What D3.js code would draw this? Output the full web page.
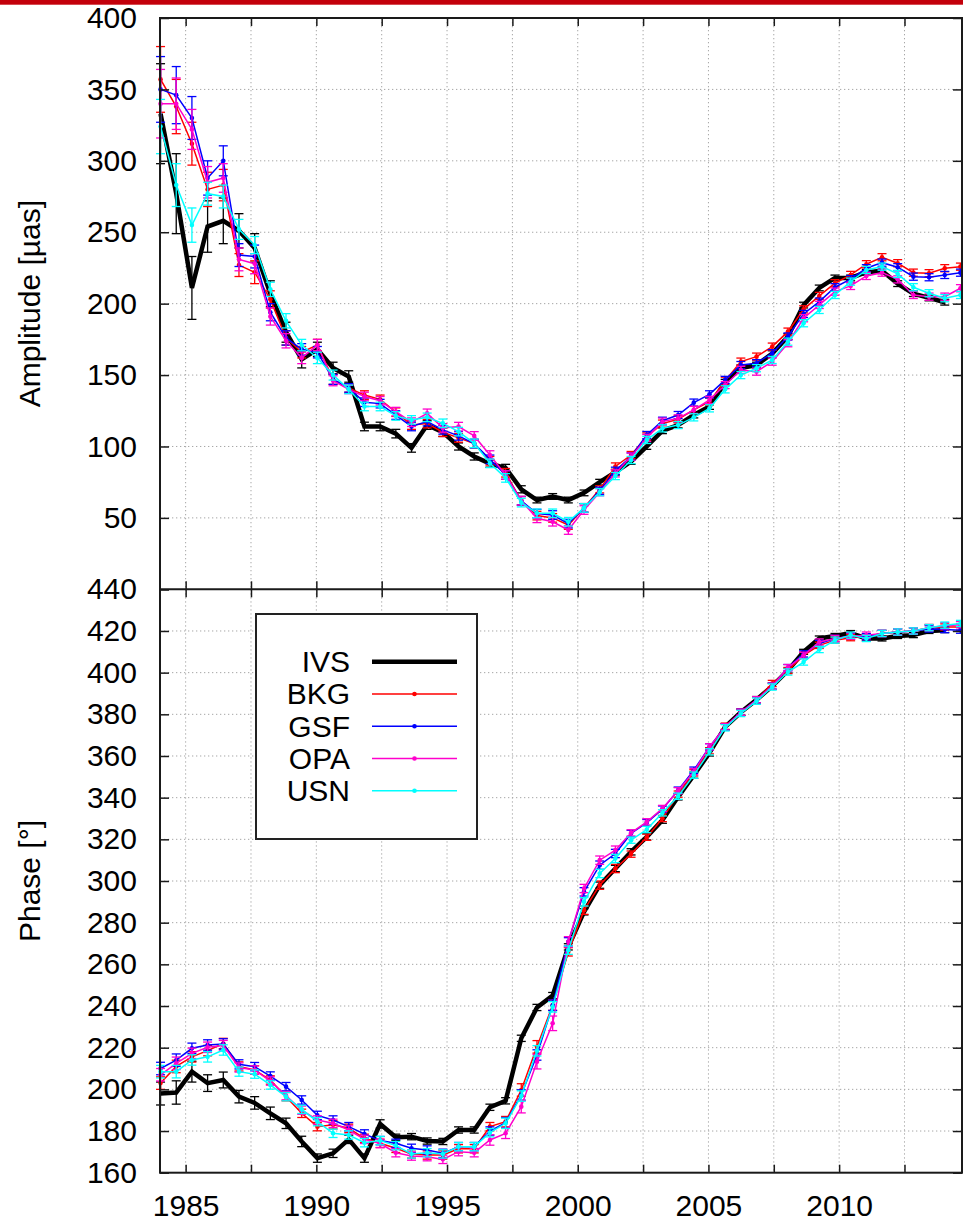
<!DOCTYPE html>
<html>
<head>
<meta charset="utf-8">
<script src="https://cdn.jsdelivr.net/npm/d3@7"></script>
<style>
  body { margin: 0; background: #fff; }
  svg { display: block; font-family: "Liberation Sans", Arial, Helvetica, sans-serif; }
</style>
</head>
<body>
<svg id="chart" width="963" height="1223"></svg>
<script>
// epochs (decimal years) of the solutions
const years = [1984.04, 1984.64, 1985.24, 1985.84, 1986.44, 1987.04, 1987.64, 1988.24, 1988.84, 1989.44,
  1990.04, 1990.64, 1991.24, 1991.84, 1992.44, 1993.04, 1993.64, 1994.24, 1994.84, 1995.44,
  1996.04, 1996.64, 1997.24, 1997.84, 1998.44, 1999.04, 1999.64, 2000.24, 2000.84, 2001.44,
  2002.04, 2002.64, 2003.24, 2003.84, 2004.44, 2005.04, 2005.64, 2006.24, 2006.84, 2007.44,
  2008.04, 2008.64, 2009.24, 2009.84, 2010.44, 2011.04, 2011.64, 2012.24, 2012.84, 2013.44,
  2014.04, 2014.64];

const names = ["IVS", "BKG", "GSF", "OPA", "USN"];
const colors = ["#000000", "#ff0000", "#0000ff", "#ff00cc", "#00ffff"];

// amplitude [µas]
const ivsAmp = [333, 277, 211, 254, 258, 251, 239, 207, 180, 161, 168, 155, 149, 114, 114, 109, 99, 115, 110, 100,
  93, 88, 85, 70, 62.5, 65, 62.5, 67.5, 75, 82, 89.5, 100, 111, 115, 122, 128, 145, 155, 157, 165,
  177, 199, 211, 218, 218, 222, 223, 214, 207, 204, 201];
const bkgAmp = [357, 338, 312, 280, 283, 227, 222, 203, 176, 166, 171, 147, 141, 136, 133, 124, 115, 116, 110, 106,
  102, 90, 81.6, 62, 51.6, 50, 45, 57, 70, 86, 94, 107, 116, 119, 125.6, 131.4, 146, 159.4, 162.9, 169.9,
  180.4, 196, 205.4, 214.3, 220.1, 227.6, 232.5, 228.3, 221.7, 221.3, 224.8, 225.9];
const gsfAmp = [350, 346, 330, 288, 300, 234, 233, 194, 176, 168, 166, 147, 141, 131, 130, 122, 114, 117.4, 111.6, 107.4,
  102, 91, 80, 62, 53, 52, 46, 57, 69, 83, 93, 108, 118, 122, 130.7, 136.5, 146.6, 157, 158.3, 165.3,
  177, 192.8, 201.4, 211.5, 217.1, 224.8, 228.7, 225.5, 218.9, 218.5, 220.1, 221.7];
const opaAmp = [340, 340, 322, 285, 288, 231, 228, 191, 174, 162, 171, 146, 140, 135, 132, 124.4, 117, 123.2, 113, 113.9,
  107.4, 94, 80, 62, 49.7, 47.3, 41.5, 55.5, 68, 81.2, 92.9, 106, 117.4, 119.7, 125.6, 132.6, 143, 153.6, 152.4, 159.4,
  172.3, 189.8, 199.1, 208.4, 212.4, 219.4, 221.7, 217, 206.1, 204.9, 204.9, 210.8];
const usnAmp = [324, 283, 255, 277, 275, 252, 241, 210, 188, 171, 162, 150, 140, 128, 128, 121.4, 118.6, 120.4, 116.2, 110.4,
  102.2, 88.2, 78, 60.7, 53.2, 53.2, 47.3, 57, 68, 79.3, 90.5, 104.6, 112.7, 115, 120.4, 126.7, 140, 150, 154.8, 160.6,
  173.4, 186.3, 195.6, 206.1, 215.4, 223.6, 225.9, 220.8, 211.5, 207.3, 203.8, 206.1];

const ivsAmpErr = [35, 28, 22, 18, 16, 12, 10, 9, 7, 6, 5, 4, 4, 3, 3, 3, 3, 3, 3, 2.5,
  2.5, 2.5, 2.5, 2.5, 2, 2, 2, 2, 2, 2, 2, 2, 2, 2, 2, 2, 2, 2, 2, 2,
  2, 2, 2, 2, 2, 2, 2, 2, 2, 2, 2];
const bkgAmpErr = [23, 19, 15, 12, 11, 8, 8, 6, 5, 4, 4, 3.5, 3, 3, 3, 3, 3, 3, 3, 3,
  3, 3, 3, 3, 3, 3, 3, 3, 2.5, 2.5, 2.5, 2.5, 2.5, 2.5, 2.5, 2.5, 2.5, 2.5, 2.5, 2.5,
  2.5, 2.5, 2.5, 2.5, 2.5, 2.5, 2.5, 2.5, 2.5, 2.5, 2.5, 2.5];
const gsfAmpErr = [23, 20, 15, 12, 10.5, 8, 8, 6, 5, 4, 4, 3.5, 3, 3, 3, 3, 3, 3, 3, 3,
  3, 3, 3, 3, 3, 3, 3, 3, 2.5, 2.5, 2.5, 2.5, 2.5, 2.5, 2.5, 2.5, 2.5, 2.5, 2.5, 2.5,
  2.5, 2.5, 2.5, 2.5, 2.5, 2.5, 2.5, 2.5, 2.5, 2.5, 2.5, 2.5];
const opaAmpErr = [24, 18, 14, 11, 10, 8, 7, 6, 5, 4, 4, 3.5, 3, 3, 3, 3, 3, 3, 3, 3,
  3, 3, 3, 3, 3, 3, 3, 3, 2.5, 2.5, 2.5, 2.5, 2.5, 2.5, 2.5, 2.5, 2.5, 2.5, 2.5, 2.5,
  2.5, 2.5, 2.5, 2.5, 2.5, 2.5, 2.5, 2.5, 2.5, 2.5, 2.5, 2.5];
const usnAmpErr = [19, 15, 12, 8, 8, 7, 6, 5, 5, 4, 4, 3.5, 3, 3, 3, 3, 3, 3, 3, 3,
  3, 3, 3, 3, 3, 3, 3, 3, 2.5, 2.5, 2.5, 2.5, 2.5, 2.5, 2.5, 2.5, 2.5, 2.5, 2.5, 2.5,
  2.5, 2.5, 2.5, 2.5, 2.5, 2.5, 2.5, 2.5, 2.5, 2.5, 2.5, 2.5];

// phase [°]
const ivsPhase = [198, 198.5, 208.5, 203, 204.5, 196.5, 193.5, 188.5, 183.7, 175, 167, 169.3, 176, 167, 183.4, 177, 177.3, 175.2, 175, 180.5,
  180.5, 191.4, 194.5, 224.5, 239.3, 245, 268.4, 285.2, 298, 306, 314, 321.2, 329.2, 340.4, 350.8, 361.5, 374, 381, 387, 393.5,
  401, 410, 416.4, 417.6, 419, 416.4, 416.4, 417.6, 418, 420, 420.4];
const bkgPhase = [203, 211, 215.6, 218.6, 222, 211, 209.3, 204.5, 196.5, 188.5, 182.1, 183, 181.3, 176.5, 174.1, 171.7, 169, 168.5, 168.5, 171.5,
  171.5, 182.1, 184.5, 199.7, 220.4, 240.4, 266, 286, 298, 306, 312.9, 321, 330, 341.7, 351.9, 362.5, 374.3, 381, 387, 394.8,
  401, 408.3, 413.1, 415.6, 416.8, 417.2, 418.8, 419.5, 420, 421.6, 421.9, 421.9];
const gsfPhase = [210, 214, 219.7, 221.3, 221.8, 212, 210.9, 206.4, 201.3, 194.9, 187.5, 185.3, 182.1, 178.6, 175.4, 174.1, 171.7, 170.9, 169.3, 172.5,
  172.5, 180, 184, 197.3, 216.5, 240.4, 270.8, 294.8, 307.6, 313.2, 322.8, 328, 334.5, 343.6, 353.2, 364.4, 374, 381, 387, 393.5,
  402.4, 409, 414, 416.4, 417.5, 417.2, 418.8, 419.5, 420, 421, 420.7, 420.4];
const opaPhase = [207, 212.5, 217.3, 220.2, 221, 210.5, 209.3, 204, 197, 190, 185.3, 183.7, 180.5, 176, 174, 169.6, 168, 167.7, 166.4, 170.1,
  169.6, 175.7, 178.9, 191.7, 213.3, 231.7, 270.8, 296.4, 310, 314.8, 323.1, 328.4, 334.8, 343.3, 352.5, 364.4, 374, 381, 387, 393.5,
  402.4, 408.3, 414.7, 416.4, 417.5, 418, 418.8, 419.5, 420, 421.6, 422.5, 423];
const usnPhase = [208.5, 208.5, 214.1, 215.6, 218.9, 208.5, 207.3, 202.1, 196.5, 190.4, 184.5, 178.9, 178.1, 174.4, 175.4, 173, 169, 169.6, 169, 172.5,
  172.5, 179.2, 183.7, 196.8, 218.5, 239.6, 266.8, 290, 303.6, 310.8, 319.6, 324.7, 332.7, 340.7, 350.8, 362, 373.5, 380.4, 386.3, 393.1,
  400.3, 405.1, 411.1, 415.6, 418, 416.4, 418.8, 419.5, 420, 421.6, 422.8, 423.6];

const ivsPhaseErr = [5.5, 5.6, 5, 4, 3.8, 3, 3, 3, 2.5, 2.5, 2, 2, 2, 2, 2, 1.5, 1.5, 1.5, 1.5, 1.5,
  1.5, 1.5, 1.5, 1.5, 1.5, 1.5, 1.5, 1.5, 1.5, 1.5, 1.5, 1.5, 1.5, 1.5, 1.5, 1.5, 1.5, 1.5, 1.5, 1.5,
  1.2, 1.2, 1.2, 1.2, 1.2, 1.2, 1.2, 1.2, 1.2, 1.2, 1.2];
const bkgPhaseErr = [3, 3, 2.5, 2.5, 2.5, 2.2, 2, 2, 2, 2, 2, 2, 2, 2, 2, 2, 2, 2, 2, 2,
  2, 2, 2.5, 3, 3, 2.5, 2, 2, 2, 2, 1.5, 1.5, 1.5, 1.5, 1.5, 1.5, 1.5, 1.5, 1.5, 1.5,
  1.5, 1.5, 1.5, 1.5, 1.5, 1.5, 1.5, 1.5, 1.5, 1.5, 1.5, 1.5];
const gsfPhaseErr = [3, 3, 2.5, 2.5, 2.5, 2.2, 2, 2, 2, 2, 2, 2, 2, 2, 2, 2, 2, 2, 2, 2,
  2, 2, 2.5, 2.5, 2.5, 2.5, 2, 2, 2, 2, 1.5, 1.5, 1.5, 1.5, 1.5, 1.5, 1.5, 1.5, 1.5, 1.5,
  1.5, 1.5, 1.5, 1.5, 1.5, 1.5, 1.5, 1.5, 1.5, 1.5, 1.5, 1.5];
const opaPhaseErr = [3, 3, 2.5, 2.5, 2.5, 2.2, 2, 2, 2, 2, 2, 2, 2, 2, 2, 2, 2, 2, 2, 2,
  2, 2.5, 2.5, 3, 3.5, 3.5, 2.5, 2, 2, 2, 1.5, 1.5, 1.5, 1.5, 1.5, 1.5, 1.5, 1.5, 1.5, 1.5,
  1.5, 1.5, 1.5, 1.5, 1.5, 1.5, 1.5, 1.5, 1.5, 1.5, 1.5, 1.5];
const usnPhaseErr = [3, 3, 2.5, 2.5, 2.5, 2.2, 2, 2, 2, 2, 2, 2, 2, 2, 2, 2, 2, 2, 2, 2,
  2, 2, 2.5, 2.5, 2.5, 2.5, 2, 2, 2, 2, 1.5, 1.5, 1.5, 1.5, 1.5, 1.5, 1.5, 1.5, 1.5, 1.5,
  1.5, 1.5, 1.5, 1.5, 1.5, 1.5, 1.5, 1.5, 1.5, 1.5, 1.5, 1.5];

// ticks
const xTicks = [1985, 1987.5, 1990, 1992.5, 1995, 1997.5, 2000, 2002.5, 2005, 2007.5, 2010, 2012.5];
const xLabels = [1985, 1990, 1995, 2000, 2005, 2010];
const ampTicks = [0, 50, 100, 150, 200, 250, 300, 350, 400];
const phaseTicks = [160, 180, 200, 220, 240, 260, 280, 300, 320, 340, 360, 380, 400, 420, 440];

const ampSeries = [ivsAmp, bkgAmp, gsfAmp, opaAmp, usnAmp];
const ampErrs = [ivsAmpErr, bkgAmpErr, gsfAmpErr, opaAmpErr, usnAmpErr];
const phaseSeries = [ivsPhase, bkgPhase, gsfPhase, opaPhase, usnPhase];
const phaseErrs = [ivsPhaseErr, bkgPhaseErr, gsfPhaseErr, opaPhaseErr, usnPhaseErr];

// layout
const W = 963, H = 1223;
const frameL = 160, frameR = 962, frameT = 18, frameM = 589.3, frameB = 1172.7;
const font = '"Liberation Sans", Arial, Helvetica, sans-serif';

const svg = d3.select("#chart");

svg.append("rect")
  .attr("x", 0).attr("y", 0).attr("width", W).attr("height", 4.7)
  .attr("fill", "#c3000b");

const x = d3.scaleLinear().domain([1984, 2014.7]).range([159.5, 962]);
const yAmp = d3.scaleLinear().domain([0, 400]).range([frameM, frameT]);
const yPh = d3.scaleLinear().domain([160, 440]).range([frameB, frameM]);

function drawGrid(yScale, yVals, y0, y1, cls) {
  const g = svg.append("g")
    .attr("stroke", "#a6a6a6")
    .attr("stroke-width", 1)
    .attr("stroke-dasharray", "1.3,2.7");
  g.selectAll("line.v" + cls).data(xTicks).join("line")
    .attr("class", "v" + cls)
    .attr("x1", d => x(d)).attr("x2", d => x(d))
    .attr("y1", y0).attr("y2", y1);
  g.selectAll("line.h" + cls).data(yVals.slice(1, -1)).join("line")
    .attr("class", "h" + cls)
    .attr("x1", frameL).attr("x2", frameR)
    .attr("y1", d => yScale(d)).attr("y2", d => yScale(d));
}

drawGrid(yAmp, ampTicks, frameT, frameM, "a");
drawGrid(yPh, phaseTicks, frameM, frameB, "p");

function styleAxis(g) {
  g.select(".domain").remove();
  g.selectAll(".tick line").attr("stroke", "#1a1a1a").attr("stroke-width", 1.5);
  g.selectAll(".tick text")
    .attr("fill", "#000")
    .attr("font-size", 30)
    .attr("font-family", font);
}

function drawAxes(yScale, yVals, labelFmt, topY, botY, xLab) {
  svg.append("g")
    .attr("transform", "translate(" + frameL + ",0)")
    .call(d3.axisLeft(yScale).tickValues(yVals).tickSize(-9).tickPadding(23).tickFormat(labelFmt))
    .call(styleAxis);
  svg.append("g")
    .attr("transform", "translate(" + frameR + ",0)")
    .call(d3.axisRight(yScale).tickValues(yVals).tickSize(-9).tickFormat(() => ""))
    .call(styleAxis);
  svg.append("g")
    .attr("transform", "translate(0," + topY + ")")
    .call(d3.axisTop(x).tickValues(xTicks).tickSize(-8).tickFormat(() => ""))
    .call(styleAxis);
  svg.append("g")
    .attr("transform", "translate(0," + botY + ")")
    .call(d3.axisBottom(x).tickValues(xTicks).tickSize(-8).tickPadding(22)
      .tickFormat(d => (xLab && xLabels.includes(d)) ? d : ""))
    .call(styleAxis);
}

function drawSeries(yScale, vals, errs, color, thick) {
  const pts = vals.map((v, i) => ({ t: years[i], v: v, e: errs[i] }));
  const g = svg.append("g");
  const eb = g.append("g").attr("stroke", color).attr("stroke-width", 1.3);
  const cap = 4.5;
  eb.selectAll("line.bar").data(pts).join("line")
    .attr("class", "bar")
    .attr("x1", d => x(d.t)).attr("x2", d => x(d.t))
    .attr("y1", d => yScale(d.v - d.e)).attr("y2", d => yScale(d.v + d.e));
  eb.selectAll("line.lo").data(pts).join("line")
    .attr("class", "lo")
    .attr("x1", d => x(d.t) - cap).attr("x2", d => x(d.t) + cap)
    .attr("y1", d => yScale(d.v - d.e)).attr("y2", d => yScale(d.v - d.e));
  eb.selectAll("line.hi").data(pts).join("line")
    .attr("class", "hi")
    .attr("x1", d => x(d.t) - cap).attr("x2", d => x(d.t) + cap)
    .attr("y1", d => yScale(d.v + d.e)).attr("y2", d => yScale(d.v + d.e));

  const line = d3.line().x(d => x(d.t)).y(d => yScale(d.v));
  g.append("path")
    .datum(pts)
    .attr("d", line)
    .attr("fill", "none")
    .attr("stroke", color)
    .attr("stroke-width", thick ? 4.5 : 1.5)
    .attr("stroke-linejoin", "miter");

  if (!thick) {
    g.selectAll("circle").data(pts).join("circle")
      .attr("cx", d => x(d.t)).attr("cy", d => yScale(d.v))
      .attr("r", 2.3)
      .attr("fill", color);
  }
}

ampSeries.forEach((s, k) => drawSeries(yAmp, s, ampErrs[k], colors[k], k === 0));
phaseSeries.forEach((s, k) => drawSeries(yPh, s, phaseErrs[k], colors[k], k === 0));

drawAxes(yAmp, ampTicks, d => d === 0 ? "" : d, frameT, frameM, false);
drawAxes(yPh, phaseTicks, d => d, frameM, frameB, true);

// frames
svg.append("rect")
  .attr("x", frameL).attr("y", frameT)
  .attr("width", frameR - frameL).attr("height", frameB - frameT)
  .attr("fill", "none").attr("stroke", "#1a1a1a").attr("stroke-width", 2);
svg.append("line")
  .attr("x1", frameL).attr("x2", frameR)
  .attr("y1", frameM).attr("y2", frameM)
  .attr("stroke", "#1a1a1a").attr("stroke-width", 2);

// axis titles
svg.append("text")
  .attr("transform", "translate(39.5," + ((frameT + frameM) / 2) + ") rotate(-90)")
  .attr("text-anchor", "middle")
  .attr("font-size", 30)
  .attr("font-family", font)
  .text("Amplitude [µas]");
svg.append("text")
  .attr("transform", "translate(39.5," + ((frameM + frameB) / 2) + ") rotate(-90)")
  .attr("text-anchor", "middle")
  .attr("font-size", 30)
  .attr("font-family", font)
  .text("Phase [°]");

// legend
const legX = 256, legY = 614, legW = 221, legH = 225;
const rowY0 = 661.7, rowStep = 32.25;
const leg = svg.append("g");
leg.append("rect")
  .attr("x", legX).attr("y", legY).attr("width", legW).attr("height", legH)
  .attr("fill", "#fff").attr("stroke", "#222").attr("stroke-width", 2);
names.forEach((n, k) => {
  const yy = rowY0 + k * rowStep;
  leg.append("text")
    .attr("x", 350).attr("y", yy)
    .attr("dy", "0.35em")
    .attr("text-anchor", "end")
    .attr("font-size", 30)
    .attr("font-family", font)
    .text(n);
  leg.append("line")
    .attr("x1", 372).attr("x2", 457)
    .attr("y1", yy).attr("y2", yy)
    .attr("stroke", colors[k])
    .attr("stroke-width", k === 0 ? 4.5 : 1.5);
  if (k > 0) {
    leg.append("circle")
      .attr("cx", 414.5).attr("cy", yy).attr("r", 2.3)
      .attr("fill", colors[k]);
  }
});
</script>
</body>
</html>
